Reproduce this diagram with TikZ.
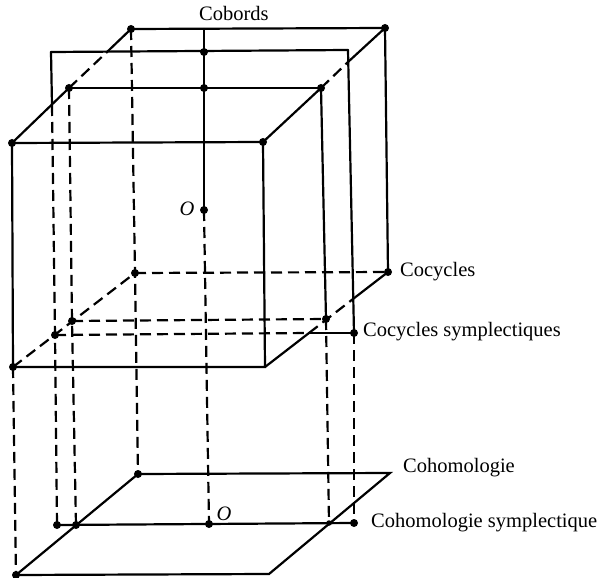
\documentclass[tikz,border=0pt]{standalone}
\usepackage{fontspec}
\setmainfont{Liberation Serif}
\begin{document}
\begin{tikzpicture}[x=1pt,y=-1pt,
  edge/.style={line width=2.2pt, line cap=round},
  hidden/.style={line width=2.2pt, dash pattern=on 11pt off 6pt},
  dot/.style={circle, fill=black, inner sep=0pt, minimum size=8pt},
  sdot/.style={circle, fill=black, inner sep=0pt, minimum size=5.5pt},
  lbl/.style={inner sep=0pt, font=\fontsize{20.5}{24}\selectfont}]
\path[use as bounding box] (0,0) rectangle (598,578);
% box
\coordinate (FTL) at (12,143);
\coordinate (FTR) at (263,142);
\coordinate (FBR) at (265,367);
\coordinate (FBL) at (13,367);
\coordinate (BTL) at (131,29);
\coordinate (BTR) at (385,28);
\coordinate (BBR) at (388,272);
\coordinate (BBL) at (135,273);
% cross-section
\coordinate (CTL) at (69,88);
\coordinate (CTR) at (321,88);
\coordinate (CBR) at (326,319);
\coordinate (CBL) at (72,321);
% tilted plane
\coordinate (PTL) at (51,52);
\coordinate (PTR) at (348,50);
\coordinate (PBR) at (354,333);
\coordinate (PBL) at (55,335);
% cobords
\coordinate (K) at (204,29);
\coordinate (K1) at (204,52);
\coordinate (K2) at (204,88);
\coordinate (O) at (204,210);
% cohomology plane
\coordinate (HFL) at (16,575);
\coordinate (HFR) at (269,574);
\coordinate (HBR) at (390,473);
\coordinate (HBL) at (138,474);
% symplectic cohomology line
\coordinate (SL1) at (57,525);
\coordinate (SL2) at (76,525);
\coordinate (O2) at (209,524);
\coordinate (SX) at (329,523);
\coordinate (SR) at (354,523);
% crossings
\coordinate (LX) at (107,52);
\coordinate (RX) at (348,62);
\coordinate (PLX) at (52,105);
\coordinate (BX1) at (309,333);
\coordinate (BX2) at (353,299);

% edges
\draw[edge] (BTL) -- (BTR);
\draw[edge] (PTL) -- (PTR);
\draw[edge] (CTL) -- (CTR);
\draw[edge] (FTL) -- (FTR) -- (FBR) -- (FBL) -- cycle;
\draw[edge] (FTL) -- (CTL);
\draw[hidden] (CTL) -- (LX);
\draw[edge] (LX) -- (BTL);
\draw[edge] (FTR) -- (CTR);
\draw[hidden] (CTR) -- (RX);
\draw[edge] (RX) -- (BTR);
\draw[edge] (BTR) -- (BBR);
\draw[edge] (PTR) -- (PBR);
\draw[hidden] (PBR) -- (SR);
\draw[edge] (CTR) -- (CBR);
\draw[hidden] (CBR) -- (SX);
\draw[edge] (PTL) -- (PLX);
\draw[hidden] (PLX) -- (PBL) -- (SL1);
\draw[hidden] (CTL) -- (CBL) -- (SL2);
\draw[hidden] (BTL) -- (BBL) -- (HBL);
\draw[hidden] (FBL) -- (HFL);
\draw[edge] (K) -- (O);
\draw[hidden] (O) -- (O2);
\draw[hidden] (FBL) -- (BBL);
\draw[hidden] (BBL) -- (BBR);
\draw[hidden] (CBL) -- (CBR);
\draw[hidden] (PBL) -- (BX1);
\draw[edge] (BX1) -- (PBR);
\draw[edge] (FBR) -- (BX1);
\draw[hidden] (BX1) -- (BX2);
\draw[edge] (BX2) -- (BBR);
% cohomology plane
\draw[edge] (HFL) -- (HFR) -- (HBR) -- (HBL) -- cycle;
\draw[edge] (SL1) -- (SR);

% dots
\foreach \p in {FTL,FTR,FBL,BTL,BTR,BBR,BBL,CTL,CTR,CBR,CBL,PBR,PBL,K1,K2,O,HFL,HBL,SL1,SL2,O2,SR}
  \node[dot] (d\p) at (\p) {};
\node[sdot] (dSX) at (SX) {};

% labels
\node[lbl, anchor=base west] (tCob) at (199,21) {Cobords};
\node[lbl, anchor=base] (tO1) at (187,215) {\textit{O}};
\node[lbl, anchor=base west] (tCoc) at (400,276) {Cocycles};
\node[lbl, anchor=base west] (tCocS) at (363,336) {Cocycles symplectiques};
\node[lbl, anchor=base west] (tCoh) at (403,472) {Cohomologie};
\node[lbl, anchor=base west] (tCohS) at (371,527) {Cohomologie symplectique};
\node[lbl, anchor=base] (tO2) at (224,520) {\textit{O}};
\end{tikzpicture}
\end{document}
